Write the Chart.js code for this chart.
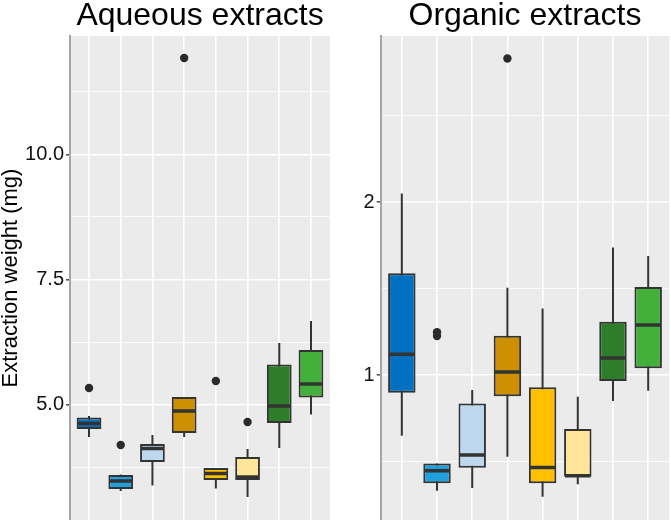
<!DOCTYPE html>
<html>
<head>
<meta charset="utf-8">
<script src="https://cdn.jsdelivr.net/npm/chart.js@4.4.1/dist/chart.umd.min.js"></script>
<style>
  body { margin: 0; background: #fff; }
  #wrap { position: relative; width: 671px; height: 520px; }
  .panel { position: absolute; top: 0; height: 520px; }
</style>
</head>
<body>
<div id="wrap">
  <div class="panel" style="left:0;width:335px"><canvas id="aqueousChart"></canvas></div>
  <div class="panel" style="left:340px;width:331px"><canvas id="organicChart"></canvas></div>
</div>
<script>
// group positions on the x axis (the groups are unlabelled in the figure)
const groups = [1, 2, 3, 4, 5, 6, 7, 8];
const boxColors = ['#0070C0', '#1FA0DD', '#BDD7EE', '#CC9000', '#FFC000', '#FFE699', '#2E7D2B', '#43B03C'];

// Aqueous extracts (mg)
const aqLow  = [4.35, 3.27, 3.38, 4.35, 3.32, 3.15, 4.13, 4.80];
const aqQ1   = [4.51, 3.31, 3.85, 4.43, 3.49, 3.49, 4.63, 5.14];
const aqMed  = [4.62, 3.47, 4.12, 4.87, 3.62, 3.55, 4.97, 5.41];
const aqQ3   = [4.74, 3.59, 4.21, 5.15, 3.73, 3.95, 5.80, 6.09];
const aqHigh = [4.77, 3.60, 4.39, 5.15, 3.73, 4.11, 6.23, 6.67];
const aqOutGroup = [1, 2, 4, 5, 6];
const aqOutValue = [5.33, 4.19, 11.93, 5.47, 4.65];
const aqMajorTicks = [5.0, 7.5, 10.0];
const aqMinorTicks = [3.75, 6.25, 8.75, 11.25];

// Organic extracts (mg)
const orLow  = [0.649, 0.331, 0.347, 0.528, 0.297, 0.368, 0.850, 0.909];
const orQ1   = [0.898, 0.374, 0.464, 0.877, 0.374, 0.412, 0.965, 1.039];
const orMed  = [1.120, 0.447, 0.538, 1.017, 0.466, 0.418, 1.098, 1.289];
const orQ3   = [1.588, 0.489, 0.836, 1.227, 0.929, 0.688, 1.308, 1.509];
const orHigh = [2.050, 0.489, 0.913, 1.505, 1.385, 0.875, 1.738, 1.688];
const orOutGroup = [2, 2, 4];
const orOutValue = [1.247, 1.225, 2.83];
const orMajorTicks = [1, 2];
const orMinorTicks = [0.5, 1.5, 2.5];

const FONT = 'Liberation Sans, Arial, sans-serif';
const BOX_WIDTH = 0.78;
const INK = '#333333';

const panelBackground = {
  id: 'panelBackground',
  beforeDraw(chart) {
    const { ctx, chartArea: a } = chart;
    ctx.save();
    ctx.fillStyle = '#EBEBEB';
    ctx.fillRect(a.left, a.top, a.width, a.height);
    ctx.restore();
  }
};

function pairs(xs, ys) {
  return xs.map((x, i) => ({ x, y: ys[i] }));
}

function createBoxplotChart(canvasId, p) {
  const isMajor = (v) => p.major.some(m => Math.abs(m - v) < 1e-9);
  const yTicks = p.major.concat(p.minor).sort((a, b) => a - b);

  return new Chart(document.getElementById(canvasId), {
    type: 'bar',
    data: {
      datasets: [
        { // whiskers
          type: 'bar',
          data: groups.map((g, i) => ({ x: g, y: [p.low[i], p.high[i]] })),
          backgroundColor: INK,
          borderWidth: 0,
          grouped: false,
          barPercentage: 0.2,
          categoryPercentage: 1,
          maxBarThickness: 2,
          order: 3
        },
        { // boxes
          type: 'bar',
          data: groups.map((g, i) => ({ x: g, y: [p.q1[i], p.q3[i]] })),
          backgroundColor: boxColors,
          borderColor: INK,
          borderWidth: 2,
          borderSkipped: false,
          grouped: false,
          barPercentage: BOX_WIDTH,
          categoryPercentage: 1,
          order: 2
        },
        { // medians
          type: 'line',
          data: pairs(groups, p.med),
          showLine: false,
          pointStyle: 'line',
          pointBorderColor: INK,
          pointBorderWidth: 3.5,
          pointRadius: (ctx) => {
            const s = ctx.chart.scales.x;
            return (s.getPixelForValue(2) - s.getPixelForValue(1)) * BOX_WIDTH / 2 - 1;
          },
          order: 1
        },
        { // outliers
          type: 'line',
          data: pairs(p.outGroup, p.outValue),
          showLine: false,
          pointStyle: 'circle',
          pointRadius: 4.2,
          pointBackgroundColor: '#2B2B2B',
          pointBorderWidth: 0,
          order: 0
        }
      ]
    },
    options: {
      responsive: true,
      maintainAspectRatio: false,
      animation: false,
      layout: { autoPadding: false, padding: { left: 0, right: p.padRight, top: 0, bottom: 0 } },
      plugins: {
        legend: { display: false },
        tooltip: { enabled: false },
        title: {
          display: true,
          text: p.title,
          fullSize: false,
          color: '#000',
          font: { family: FONT, size: 32, weight: 'normal', lineHeight: 1 },
          padding: { top: 0, bottom: 4 }
        }
      },
      scales: {
        x: {
          type: 'linear',
          min: 0.4,
          max: 8.6,
          offset: false,
          afterBuildTicks: (scale) => { scale.ticks = groups.map(v => ({ value: v })); },
          afterFit: (scale) => { scale.height = 0; scale.paddingLeft = 0; scale.paddingRight = 0; },
          ticks: { display: false },
          grid: { offset: false, color: '#FFFFFF', lineWidth: 1.6, drawTicks: false },
          border: { display: false }
        },
        y: {
          type: 'linear',
          min: p.yMin,
          max: p.yMax,
          afterBuildTicks: (scale) => { scale.ticks = yTicks.map(v => ({ value: v })); },
          afterFit: (scale) => {
            scale.width = p.axisWidth;
            scale.paddingTop = 0;
            scale.paddingBottom = 0;
          },
          ticks: {
            autoSkip: false,
            padding: 2,
            color: '#111',
            font: { family: FONT, size: 20 },
            callback: (v) => isMajor(v) ? v.toFixed(p.digits) : ''
          },
          grid: {
            color: '#FFFFFF',
            lineWidth: (ctx) => isMajor(ctx.tick.value) ? 1.6 : 0.8,
            tickColor: (ctx) => isMajor(ctx.tick.value) ? '#555' : 'rgba(0,0,0,0)',
            tickLength: 4
          },
          border: { display: true, color: '#A6A6A6', width: 2 },
          title: {
            display: !!p.yTitle,
            text: p.yTitle,
            color: '#000',
            font: { family: FONT, size: 22, lineHeight: 1 },
            padding: 0
          }
        }
      }
    },
    plugins: [panelBackground]
  });
}

createBoxplotChart('aqueousChart', {
  title: 'Aqueous extracts', yTitle: 'Extraction weight (mg)',
  low: aqLow, q1: aqQ1, med: aqMed, q3: aqQ3, high: aqHigh,
  outGroup: aqOutGroup, outValue: aqOutValue,
  major: aqMajorTicks, minor: aqMinorTicks, digits: 1,
  yMin: 2.69, yMax: 12.37, axisWidth: 70, padRight: 5
});

createBoxplotChart('organicChart', {
  title: 'Organic extracts', yTitle: '',
  low: orLow, q1: orQ1, med: orMed, q3: orQ3, high: orHigh,
  outGroup: orOutGroup, outValue: orOutValue,
  major: orMajorTicks, minor: orMinorTicks, digits: 0,
  yMin: 0.162, yMax: 2.96, axisWidth: 40.7, padRight: 1.7
});
</script>
</body>
</html>
